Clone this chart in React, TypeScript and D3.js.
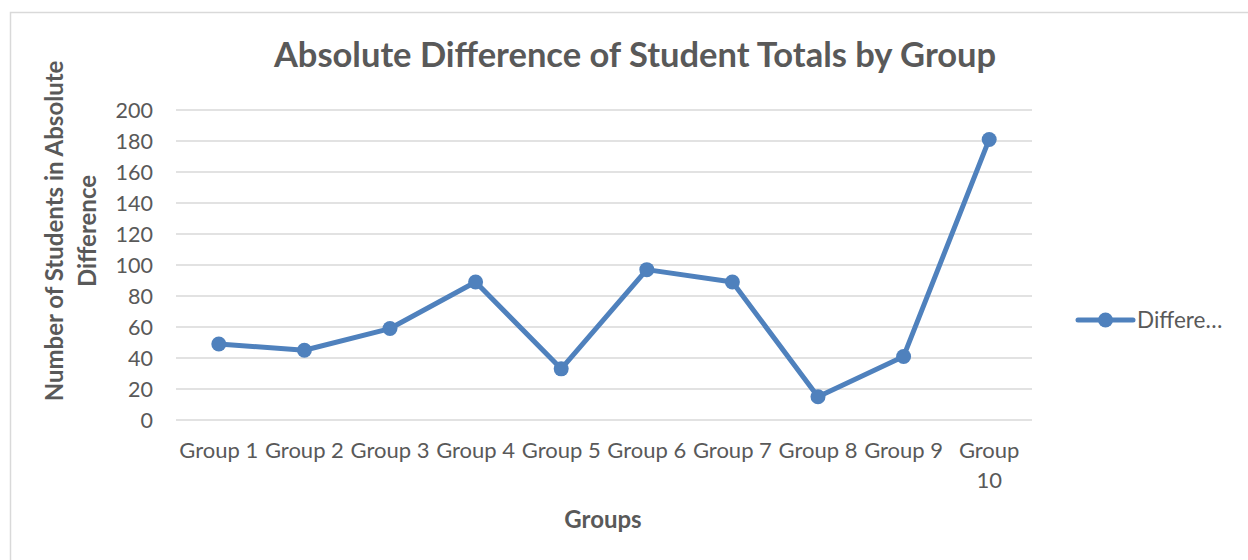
import React, { useRef, useEffect } from 'react';
import * as d3 from 'd3';

const groups = ['Group 1', 'Group 2', 'Group 3', 'Group 4', 'Group 5', 'Group 6', 'Group 7', 'Group 8', 'Group 9', 'Group 10'];
const differences = [49, 45, 59, 89, 33, 97, 89, 15, 41, 181];
const yTicks = [0, 20, 40, 60, 80, 100, 120, 140, 160, 180, 200];

const chartTitle = 'Absolute Difference of Student Totals by Group';
const yTitle = ['Number of Students in Absolute', 'Difference'];
const xTitle = 'Groups';
const legendLabel = 'Differe…';

function App() {
  const svgRef = useRef(null);

  useEffect(() => {
    document.body.style.margin = '0';

    const width = 1248;
    const height = 560;
    const margin = { top: 110, right: 216, bottom: 140, left: 176 };
    const font = 'Lato, "Open Sans", sans-serif';
    const lineColor = '#4f81bd';
    const textColor = '#595959';

    const svg = d3.select(svgRef.current)
      .attr('width', width)
      .attr('height', height);
    svg.selectAll('*').remove();

    // outer chart frame
    svg.append('rect')
      .attr('x', 10.5).attr('y', 12.5)
      .attr('width', 1260).attr('height', 600)
      .attr('fill', '#fff')
      .attr('stroke', '#d9d9d9')
      .attr('stroke-width', 1.5);

    const x = d3.scaleBand()
      .domain(groups)
      .range([margin.left, width - margin.right]);

    const y = d3.scaleLinear()
      .domain([0, 200])
      .range([height - margin.bottom, margin.top]);

    // gridlines
    svg.append('g')
      .selectAll('line')
      .data(yTicks)
      .join('line')
      .attr('x1', margin.left)
      .attr('x2', width - margin.right)
      .attr('y1', d => y(d))
      .attr('y2', d => y(d))
      .attr('stroke', '#d9d9d9')
      .attr('stroke-width', 1.5);

    // y tick labels
    svg.append('g')
      .selectAll('text')
      .data(yTicks)
      .join('text')
      .attr('x', 153)
      .attr('y', d => y(d))
      .attr('dy', '0.35em')
      .attr('text-anchor', 'end')
      .attr('font-family', font)
      .attr('font-size', 21.5)
      .attr('fill', textColor)
      .text(d => d);

    // x tick labels (Group 10 wraps like in the original)
    const xl = svg.append('g')
      .selectAll('text')
      .data(groups)
      .join('text')
      .attr('x', d => x(d) + x.bandwidth() / 2)
      .attr('y', 458)
      .attr('text-anchor', 'middle')
      .attr('font-family', font)
      .attr('font-size', 22)
      .attr('fill', textColor);
    xl.each(function (d) {
      const parts = d === 'Group 10' ? ['Group', '10'] : [d];
      d3.select(this).selectAll('tspan')
        .data(parts)
        .join('tspan')
        .attr('x', x(d) + x.bandwidth() / 2)
        .attr('dy', (p, i) => (i === 0 ? 0 : 30))
        .text(p => p);
    });

    const line = d3.line()
      .x((d, i) => x(groups[i]) + x.bandwidth() / 2)
      .y(d => y(d));

    svg.append('path')
      .datum(differences)
      .attr('d', line)
      .attr('fill', 'none')
      .attr('stroke', lineColor)
      .attr('stroke-width', 5)
      .attr('stroke-linejoin', 'round')
      .attr('stroke-linecap', 'round');

    svg.append('g')
      .selectAll('circle')
      .data(differences)
      .join('circle')
      .attr('cx', (d, i) => x(groups[i]) + x.bandwidth() / 2)
      .attr('cy', d => y(d))
      .attr('r', 7.5)
      .attr('fill', lineColor);

    // title
    svg.append('text')
      .attr('x', 635)
      .attr('y', 67)
      .attr('text-anchor', 'middle')
      .attr('font-family', font)
      .attr('font-weight', 'bold')
      .attr('font-size', 34.5)
      .attr('fill', textColor)
      .text(chartTitle);

    // y axis title
    svg.append('text')
      .attr('transform', 'translate(55, 231) rotate(-90)')
      .attr('text-anchor', 'middle')
      .attr('font-family', font)
      .attr('font-weight', 'bold')
      .attr('font-size', 24)
      .attr('fill', textColor)
      .selectAll('tspan')
      .data(yTitle)
      .join('tspan')
      .attr('x', 0)
      .attr('dy', (d, i) => (i === 0 ? '0.35em' : 33))
      .text(d => d);

    // x axis title
    svg.append('text')
      .attr('x', 603)
      .attr('y', 528)
      .attr('text-anchor', 'middle')
      .attr('font-family', font)
      .attr('font-weight', 'bold')
      .attr('font-size', 24)
      .attr('fill', textColor)
      .text(xTitle);

    // legend
    const lg = svg.append('g').attr('transform', 'translate(1078, 320)');
    lg.append('line')
      .attr('x1', 0).attr('x2', 55)
      .attr('stroke', lineColor)
      .attr('stroke-width', 5)
      .attr('stroke-linecap', 'round');
    lg.append('circle')
      .attr('cx', 27.5).attr('r', 7.5)
      .attr('fill', lineColor);
    lg.append('text')
      .attr('x', 59)
      .attr('dy', '0.35em')
      .attr('font-family', font)
      .attr('font-size', 22.5)
      .attr('fill', textColor)
      .text(legendLabel);
  }, []);

  return <svg ref={svgRef} style={{ display: 'block' }}></svg>;
}

export default App;
